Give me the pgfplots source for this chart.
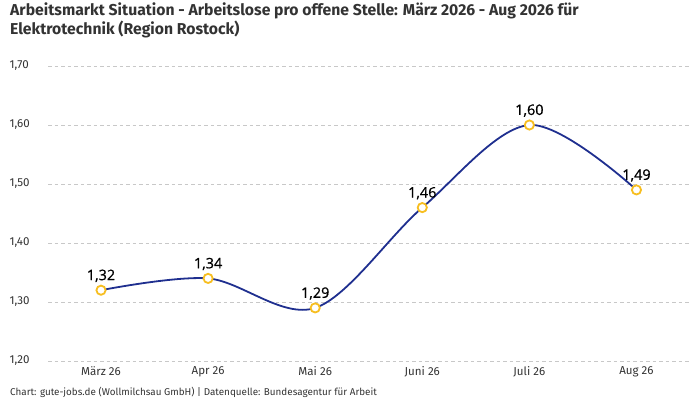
\documentclass[border=0pt]{standalone}
\usepackage{pgfplots}
\pgfplotsset{compat=1.18}
\usepackage{fontspec}
\setmainfont{Fira Sans}
\newfontfamily\labelfont[FakeBold=0.8]{Open Sans}
\definecolor{linecol}{HTML}{1F2F8F}
\definecolor{markcol}{HTML}{F7BE20}
\definecolor{gridcol}{HTML}{C8C8C8}
\definecolor{txtcol}{HTML}{333333}

\begin{document}
\begin{tikzpicture}[x=1bp,y=1bp]
\useasboundingbox (0,0) rectangle (700,400);
\begin{axis}[
  at={(48bp,39bp)}, anchor=south west,
  scale only axis, width=642bp, height=295bp,
  xmin=-0.495, xmax=5.5, ymin=1.2, ymax=1.7,
  axis line style={draw=none},
  major tick length=0pt,
  xtick={0,...,5},
  xticklabels={März 26,Apr 26,Mai 26,Juni 26,Juli 26,Aug 26},
  ytick={1.2,1.3,...,1.7},
  ymajorgrids,
  grid style={gridcol, dash pattern=on 3.5bp off 3bp, line width=0.7bp},
  ticklabel style={font=\fontsize{11.6}{13}\selectfont, text=txtcol},
  yticklabel style={anchor=west, xshift=-42bp},
  xticklabel style={yshift=-2bp},
  /pgf/number format/.cd, fixed, fixed zerofill, precision=2, use comma,
  assume math mode=true,
]
\addplot[linecol, line width=1.8bp, smooth, tension=0.55,
  mark=*, mark size=4.6bp,
  mark options={draw=markcol, fill=white, line width=1.8bp},
  nodes near coords={\pgfmathprintnumber[fixed,fixed zerofill,precision=2,use comma,assume math mode=true]{\pgfplotspointmeta}},
  every node near coord/.append style={font=\labelfont\fontsize{14.5}{16}\selectfont, text=black, yshift=4bp},
  point meta=explicit]
coordinates {
  (0,1.32) [1.32]
  (1,1.34) [1.34]
  (2,1.29) [1.29]
  (3,1.46) [1.46]
  (4,1.60) [1.60]
  (5,1.49) [1.49]
};
\end{axis}
\node[anchor=north west, align=left, inner sep=0pt, text=txtcol,
  font=\bfseries\fontsize{15.8}{18.5}\selectfont] at (10,397)
  {Arbeitsmarkt Situation - Arbeitslose pro offene Stelle: März 2026 - Aug 2026 für\\Elektrotechnik (Region Rostock)};
\node[anchor=base west, inner sep=0pt, text=txtcol, font=\fontsize{9.9}{11}\selectfont] at (10,5)
  {Chart: gute-jobs.de (Wollmilchsau GmbH) | Datenquelle: Bundesagentur für Arbeit};
\end{tikzpicture}
\end{document}
